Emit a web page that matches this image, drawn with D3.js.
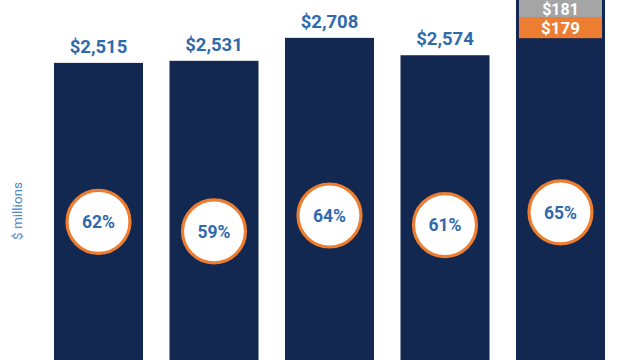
<!DOCTYPE html>
<html>
<head>
<meta charset="utf-8">
<script src="https://cdn.jsdelivr.net/npm/d3@7"></script>
<style>
  html, body { margin: 0; padding: 0; background: #fff; }
  svg { display: block; font-family: Roboto, "Noto Sans", sans-serif; }
</style>
</head>
<body>
<svg id="chart" width="640" height="360"></svg>
<script>
// ---- data ----
const categories = ["Year 1", "Year 2", "Year 3", "Year 4", "Year 5"];
const baseValues = [2515, 2531, 2708, 2574, 2690];
const valueLabels = ["$2,515", "$2,531", "$2,708", "$2,574", null];
const extraOrange = [0, 0, 0, 0, 179];
const extraGrey = [0, 0, 0, 0, 181];
const extraOrangeLabels = [null, null, null, null, "$179"];
const extraGreyLabels = [null, null, null, null, "$181"];
const percents = [62, 59, 64, 61, 65];
const percentLabels = ["62%", "59%", "64%", "61%", "65%"];
const axisTitle = "$ millions";

// ---- styles ----
const NAVY = "#122851";
const ORANGE = "#ed7d31";
const GREY = "#a5a5a5";
const BLUE = "#2f6aad";
const AXIS_BLUE = "#4f86c6";

const svg = d3.select("#chart");

const x = d3.scaleBand()
  .domain(categories)
  .range([40.75, 618.25])
  .paddingInner(0.2294)
  .paddingOuter(0.1147);

const y = d3.scaleLinear().domain([0, 3000]).range([389, 0]);
// secondary scale for the percentage markers
const yPct = d3.scaleLinear().domain([0, 100]).range([418.4, 101.4]);

const data = categories.map((c, i) => ({
  c, base: baseValues[i], label: valueLabels[i],
  orange: extraOrange[i], grey: extraGrey[i],
  oLabel: extraOrangeLabels[i], gLabel: extraGreyLabels[i],
  pct: percents[i], pLabel: percentLabels[i]
}));

const g = svg.append("g");

// main navy bars (including stack outline)
g.selectAll("rect.bar").data(data).join("rect")
  .attr("class", "bar")
  .attr("x", d => x(d.c))
  .attr("width", x.bandwidth())
  .attr("y", d => y(d.base + d.orange + d.grey))
  .attr("height", d => y(0) - y(d.base + d.orange + d.grey))
  .attr("fill", NAVY);

// stacked segments
const stacked = data.filter(d => d.orange > 0);
g.selectAll("rect.orange").data(stacked).join("rect")
  .attr("class", "orange")
  .attr("x", d => x(d.c) + 3)
  .attr("width", x.bandwidth() - 6)
  .attr("y", d => y(d.base + d.orange))
  .attr("height", d => y(d.base) - y(d.base + d.orange) - 2)
  .attr("fill", ORANGE);

g.selectAll("rect.grey").data(stacked).join("rect")
  .attr("class", "grey")
  .attr("x", d => x(d.c) + 3)
  .attr("width", x.bandwidth() - 6)
  .attr("y", d => y(d.base + d.orange + d.grey))
  .attr("height", d => y(d.base + d.orange) - y(d.base + d.orange + d.grey))
  .attr("fill", GREY);

g.selectAll("text.olab").data(stacked).join("text")
  .attr("class", "olab")
  .attr("x", d => x(d.c) + x.bandwidth() / 2)
  .attr("y", d => (y(d.base + d.orange) + y(d.base)) / 2 - 1)
  .attr("dy", "0.36em")
  .attr("text-anchor", "middle")
  .attr("fill", "#fff")
  .attr("font-size", 17)
  .attr("font-weight", 700)
  .text(d => d.oLabel);

// grey label: keep it inside the visible area
g.selectAll("text.glab").data(stacked).join("text")
  .attr("class", "glab")
  .attr("x", d => x(d.c) + x.bandwidth() / 2)
  .attr("y", d => Math.max((y(d.base + d.orange + d.grey) + y(d.base + d.orange)) / 2, 9.5))
  .attr("dy", "0.36em")
  .attr("text-anchor", "middle")
  .attr("fill", "#fff")
  .attr("font-size", 16)
  .attr("font-weight", 700)
  .text(d => d.gLabel);

// value labels above bars
g.selectAll("text.val").data(data.filter(d => d.label)).join("text")
  .attr("class", "val")
  .attr("x", d => x(d.c) + x.bandwidth() / 2)
  .attr("y", d => y(d.base) - 10)
  .attr("text-anchor", "middle")
  .attr("fill", BLUE)
  .attr("font-size", 18.5)
  .attr("font-weight", 700)
  .text(d => d.label);

// percentage markers
const marks = g.selectAll("g.pct").data(data).join("g")
  .attr("class", "pct")
  .attr("transform", d => `translate(${x(d.c) + x.bandwidth() / 2},${yPct(d.pct)})`);
marks.append("circle")
  .attr("r", 31.5)
  .attr("fill", "#fff")
  .attr("stroke", ORANGE)
  .attr("stroke-width", 3.2);
marks.append("text")
  .attr("text-anchor", "middle")
  .attr("dy", "0.36em")
  .attr("fill", BLUE)
  .attr("font-size", 17.5)
  .attr("font-weight", 700)
  .text(d => d.pLabel);

// axis title
svg.append("text")
  .attr("transform", "translate(22,211) rotate(-90)")
  .attr("text-anchor", "middle")
  .attr("fill", AXIS_BLUE)
  .attr("font-size", 13.5)
  .text(axisTitle);
</script>
</body>
</html>
